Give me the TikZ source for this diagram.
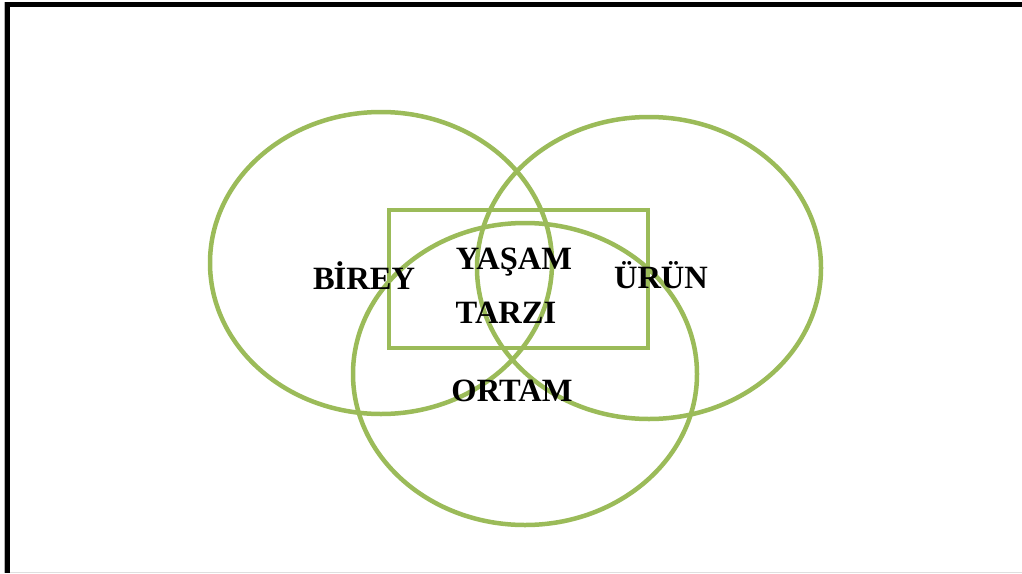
\documentclass[tikz,border=0pt]{standalone}
\usepackage{fontspec}
\setmainfont{Liberation Serif}
\definecolor{vgreen}{HTML}{9BBB59}
\begin{document}
\begin{tikzpicture}[x=1pt,y=-1pt,
  ring/.style={draw=vgreen,line width=4.5pt},
  lbl/.style={font=\fontsize{32.5}{35}\selectfont\bfseries,text=black,align=center,inner sep=0pt}]
\useasboundingbox (0,0) rectangle (1022,573);
\fill[white] (0,0) rectangle (1022,573);
% frame
\draw[gray!60,line width=1pt] (4.5,2) -- (4.5,573);
\draw[gray!25,line width=1pt] (10,572.5) -- (1022,572.5);
\draw[black,line width=5pt] (5,4.5) -- (1022,4.5);
\draw[black,line width=5pt] (7.5,2) -- (7.5,573);
% shapes
\draw[ring] (381,263) ellipse [x radius=171,y radius=151];
\draw[ring] (649,268) ellipse [x radius=172,y radius=151];
\draw[ring] (525,374) ellipse [x radius=172,y radius=151];
\draw[ring] (389,210) rectangle (648,348);
% labels
\node[lbl] (birey) at (364,276) {B\kern-1ptİREY};
\node[lbl] (yasam) at (514,262) {YAŞAM};
\node[lbl] (tarzi) at (506,313) {TARZI};
\node[lbl] (urun) at (661,275) {ÜRÜN};
\node[lbl] (ortam) at (512,391) {ORTAM};
\end{tikzpicture}
\end{document}
